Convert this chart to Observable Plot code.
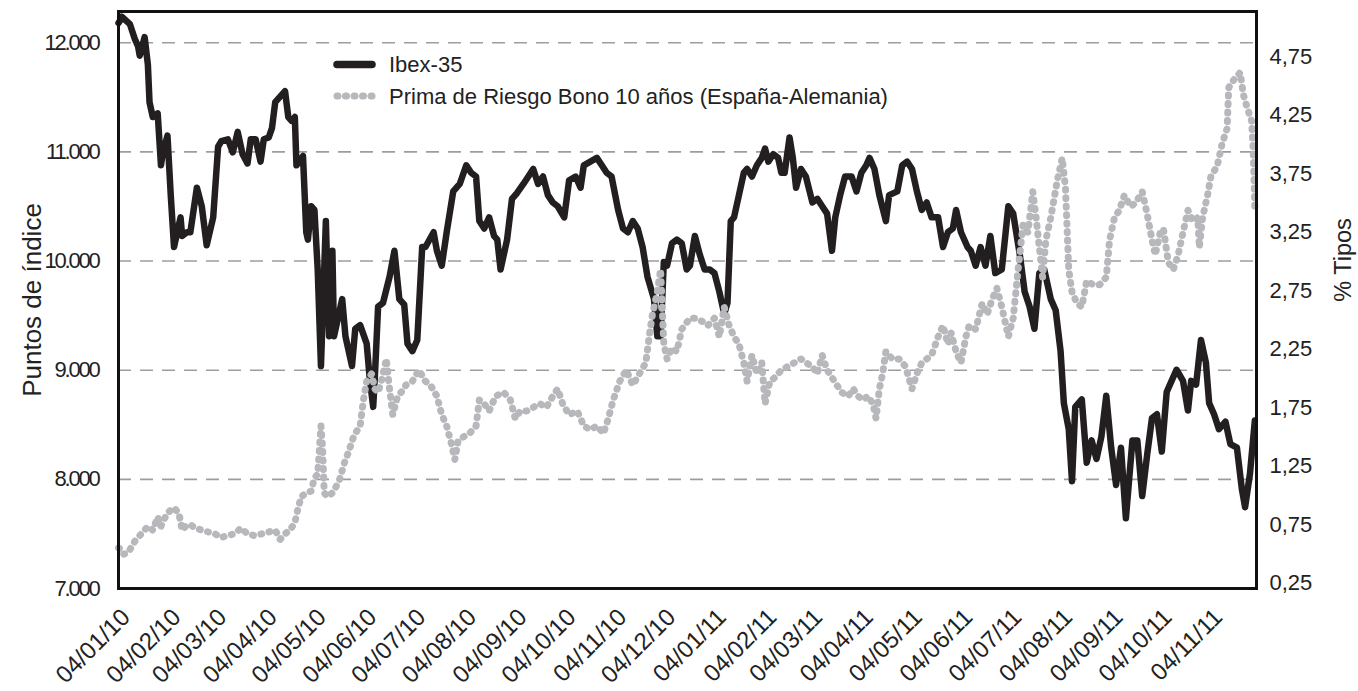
<!DOCTYPE html>
<html><head><meta charset="utf-8">
<script src="https://cdn.jsdelivr.net/npm/d3@7"></script>
<script src="https://cdn.jsdelivr.net/npm/@observablehq/plot@0.6"></script>
<style>
body{margin:0;background:#fff;}
#chart{position:relative;width:1358px;height:691px;}
#chart svg{font-family:"Liberation Sans",Arial,Helvetica,sans-serif;}
</style></head><body><div id="chart"></div>
<script>
const ibexDates = ["2010-01-04","2010-01-05","2010-01-06","2010-01-11","2010-01-14","2010-01-16","2010-01-17","2010-01-20","2010-01-22","2010-01-23","2010-01-25","2010-01-28","2010-01-30","2010-01-31","2010-02-03","2010-02-05","2010-02-07","2010-02-11","2010-02-12","2010-02-15","2010-02-17","2010-02-21","2010-02-24","2010-02-27","2010-03-03","2010-03-06","2010-03-08","2010-03-12","2010-03-15","2010-03-18","2010-03-21","2010-03-24","2010-03-26","2010-03-29","2010-04-01","2010-04-03","2010-04-06","2010-04-08","2010-04-10","2010-04-13","2010-04-16","2010-04-18","2010-04-20","2010-04-22","2010-04-23","2010-04-27","2010-04-29","2010-04-30","2010-05-02","2010-05-04","2010-05-06","2010-05-08","2010-05-11","2010-05-13","2010-05-15","2010-05-16","2010-05-21","2010-05-23","2010-05-27","2010-05-29","2010-06-01","2010-06-05","2010-06-07","2010-06-09","2010-06-10","2010-06-12","2010-06-15","2010-06-19","2010-06-22","2010-06-25","2010-06-28","2010-06-30","2010-07-03","2010-07-06","2010-07-09","2010-07-11","2010-07-16","2010-07-18","2010-07-21","2010-07-24","2010-07-28","2010-08-01","2010-08-05","2010-08-08","2010-08-11","2010-08-13","2010-08-16","2010-08-19","2010-08-22","2010-08-24","2010-08-26","2010-08-30","2010-09-02","2010-09-05","2010-09-09","2010-09-12","2010-09-15","2010-09-18","2010-09-21","2010-09-24","2010-09-27","2010-09-30","2010-10-04","2010-10-07","2010-10-11","2010-10-14","2010-10-16","2010-10-20","2010-10-24","2010-10-27","2010-10-30","2010-11-02","2010-11-06","2010-11-09","2010-11-12","2010-11-15","2010-11-18","2010-11-21","2010-11-24","2010-11-28","2010-11-30","2010-12-02","2010-12-04","2010-12-06","2010-12-09","2010-12-12","2010-12-15","2010-12-18","2010-12-20","2010-12-23","2010-12-26","2010-12-29","2011-01-01","2011-01-04","2011-01-07","2011-01-10","2011-01-12","2011-01-14","2011-01-16","2011-01-19","2011-01-22","2011-01-24","2011-01-27","2011-01-30","2011-02-02","2011-02-04","2011-02-06","2011-02-09","2011-02-12","2011-02-14","2011-02-16","2011-02-19","2011-02-21","2011-02-23","2011-02-26","2011-03-01","2011-03-05","2011-03-08","2011-03-11","2011-03-14","2011-03-17","2011-03-19","2011-03-22","2011-03-25","2011-03-29","2011-04-01","2011-04-04","2011-04-07","2011-04-09","2011-04-12","2011-04-15","2011-04-19","2011-04-21","2011-04-26","2011-04-29","2011-05-02","2011-05-05","2011-05-08","2011-05-11","2011-05-14","2011-05-17","2011-05-21","2011-05-24","2011-05-27","2011-05-30","2011-06-01","2011-06-04","2011-06-08","2011-06-10","2011-06-13","2011-06-16","2011-06-19","2011-06-22","2011-06-25","2011-06-29","2011-07-03","2011-07-06","2011-07-10","2011-07-13","2011-07-16","2011-07-19","2011-07-22","2011-07-25","2011-07-29","2011-08-01","2011-08-04","2011-08-06","2011-08-09","2011-08-11","2011-08-13","2011-08-17","2011-08-20","2011-08-23","2011-08-26","2011-08-29","2011-09-01","2011-09-04","2011-09-07","2011-09-10","2011-09-13","2011-09-17","2011-09-20","2011-09-23","2011-09-26","2011-09-29","2011-10-02","2011-10-05","2011-10-08","2011-10-11","2011-10-14","2011-10-18","2011-10-21","2011-10-23","2011-10-26","2011-10-29","2011-11-01","2011-11-03","2011-11-06","2011-11-09","2011-11-13","2011-11-16","2011-11-20","2011-11-23","2011-11-25","2011-11-28","2011-12-01"];
const ibexValues = [12180,12204,12238,12170,12034,11966,11881,12051,11796,11455,11319,11353,10877,10979,11149,10604,10128,10400,10230,10264,10264,10672,10502,10145,10400,11047,11098,11115,10996,11183,10979,10894,11115,11115,10911,11115,11132,11217,11455,11506,11557,11319,11285,11319,10877,10962,10264,10196,10502,10468,9923,9038,10366,9311,10094,9311,9651,9311,9038,9379,9413,9243,8902,8664,8936,9583,9617,9855,10094,9651,9600,9243,9175,9277,10128,10128,10264,10094,9958,10264,10638,10706,10877,10809,10774,10366,10298,10400,10230,10196,9923,10196,10570,10621,10706,10774,10843,10706,10774,10604,10536,10502,10400,10740,10774,10672,10877,10911,10945,10877,10809,10774,10468,10298,10264,10366,10298,10128,9855,9651,9311,9311,9992,9958,10162,10196,10162,9923,9958,10230,10060,9923,9923,9890,9719,9515,9617,10366,10400,10604,10809,10843,10774,10877,10945,11030,10911,10979,10945,10809,10809,11132,10945,10672,10843,10774,10536,10570,10502,10434,10094,10400,10604,10774,10774,10638,10809,10877,10945,10843,10604,10366,10604,10638,10877,10911,10843,10638,10468,10536,10400,10400,10128,10264,10298,10468,10264,10128,10094,9958,10128,9958,10230,9890,9923,10502,10434,10060,9719,9583,9379,9890,9923,9651,9549,9175,8698,8460,7983,8664,8732,8153,8357,8187,8391,8766,8290,7949,8290,7643,8357,8357,7847,8221,8562,8596,8255,8800,8902,9004,8902,8630,8902,8868,9277,9072,8698,8596,8460,8528,8323,8290,7915,7745,8051,8540];

const primaDates = ["2010-01-04","2010-01-05","2010-01-07","2010-01-10","2010-01-14","2010-01-18","2010-01-22","2010-01-25","2010-01-28","2010-01-30","2010-02-01","2010-02-04","2010-02-07","2010-02-10","2010-02-12","2010-02-14","2010-02-17","2010-02-20","2010-02-24","2010-02-28","2010-03-04","2010-03-08","2010-03-12","2010-03-16","2010-03-20","2010-03-24","2010-03-28","2010-04-02","2010-04-06","2010-04-10","2010-04-13","2010-04-16","2010-04-19","2010-04-22","2010-04-24","2010-04-26","2010-04-29","2010-05-02","2010-05-04","2010-05-06","2010-05-08","2010-05-09","2010-05-10","2010-05-12","2010-05-15","2010-05-19","2010-05-21","2010-05-23","2010-05-25","2010-05-27","2010-05-29","2010-06-01","2010-06-03","2010-06-05","2010-06-08","2010-06-10","2010-06-12","2010-06-14","2010-06-17","2010-06-19","2010-06-21","2010-06-24","2010-06-28","2010-06-29","2010-07-03","2010-07-07","2010-07-11","2010-07-14","2010-07-18","2010-07-21","2010-07-24","2010-07-27","2010-07-29","2010-07-31","2010-08-03","2010-08-07","2010-08-11","2010-08-13","2010-08-16","2010-08-19","2010-08-23","2010-08-28","2010-09-01","2010-09-04","2010-09-07","2010-09-11","2010-09-15","2010-09-19","2010-09-23","2010-09-27","2010-09-30","2010-10-03","2010-10-07","2010-10-12","2010-10-16","2010-10-20","2010-10-24","2010-10-28","2010-10-31","2010-11-03","2010-11-07","2010-11-11","2010-11-15","2010-11-19","2010-11-23","2010-11-25","2010-11-27","2010-11-30","2010-12-02","2010-12-04","2010-12-06","2010-12-09","2010-12-12","2010-12-15","2010-12-20","2010-12-23","2010-12-28","2010-12-31","2011-01-04","2011-01-07","2011-01-10","2011-01-13","2011-01-16","2011-01-19","2011-01-22","2011-01-24","2011-01-27","2011-01-30","2011-02-02","2011-02-04","2011-02-07","2011-02-10","2011-02-14","2011-02-18","2011-02-22","2011-02-26","2011-03-01","2011-03-05","2011-03-08","2011-03-11","2011-03-14","2011-03-17","2011-03-20","2011-03-23","2011-03-27","2011-03-30","2011-04-02","2011-04-05","2011-04-08","2011-04-11","2011-04-13","2011-04-15","2011-04-17","2011-04-19","2011-04-23","2011-04-27","2011-05-01","2011-05-05","2011-05-08","2011-05-11","2011-05-14","2011-05-17","2011-05-21","2011-05-24","2011-05-27","2011-05-29","2011-06-01","2011-06-04","2011-06-07","2011-06-09","2011-06-13","2011-06-17","2011-06-20","2011-06-23","2011-06-26","2011-06-29","2011-07-03","2011-07-06","2011-07-09","2011-07-12","2011-07-15","2011-07-18","2011-07-20","2011-07-22","2011-07-24","2011-07-26","2011-07-29","2011-08-02","2011-08-05","2011-08-07","2011-08-09","2011-08-11","2011-08-14","2011-08-17","2011-08-20","2011-08-24","2011-08-28","2011-09-01","2011-09-03","2011-09-06","2011-09-09","2011-09-12","2011-09-16","2011-09-19","2011-09-23","2011-09-26","2011-09-29","2011-10-01","2011-10-04","2011-10-06","2011-10-09","2011-10-12","2011-10-15","2011-10-18","2011-10-21","2011-10-24","2011-10-27","2011-10-28","2011-10-30","2011-11-02","2011-11-04","2011-11-08","2011-11-11","2011-11-14","2011-11-15","2011-11-18","2011-11-22","2011-11-24","2011-11-26","2011-11-29","2011-11-30","2011-12-01"];
const primaValues = [0.55,0.543,0.496,0.512,0.607,0.671,0.734,0.702,0.814,0.734,0.798,0.861,0.893,0.845,0.702,0.734,0.75,0.718,0.702,0.686,0.671,0.639,0.655,0.671,0.718,0.671,0.655,0.671,0.686,0.702,0.623,0.671,0.702,0.766,0.893,0.988,1.02,1.036,1.148,1.18,1.592,1.402,1.02,0.988,1.02,1.116,1.211,1.306,1.37,1.465,1.529,1.592,1.815,1.974,2.038,1.91,1.879,1.974,2.165,1.91,1.688,1.847,1.91,1.942,1.974,2.07,1.974,1.942,1.847,1.688,1.592,1.434,1.306,1.465,1.497,1.529,1.592,1.815,1.783,1.72,1.847,1.879,1.815,1.656,1.72,1.72,1.751,1.783,1.751,1.847,1.91,1.783,1.688,1.72,1.592,1.561,1.592,1.529,1.656,1.815,1.974,2.07,1.942,2.038,2.133,2.355,2.546,2.737,2.928,2.292,2.165,2.26,2.228,2.419,2.514,2.514,2.483,2.451,2.514,2.355,2.61,2.451,2.355,2.292,2.133,1.974,2.197,2.038,2.133,1.783,1.974,2.006,2.07,2.101,2.133,2.165,2.133,2.101,2.038,2.197,2.07,2.006,1.942,1.879,1.847,1.91,1.847,1.815,1.847,1.783,1.656,1.91,2.038,2.228,2.165,2.165,2.101,1.91,2.038,2.133,2.165,2.197,2.355,2.451,2.292,2.387,2.228,2.133,2.355,2.45,2.419,2.641,2.546,2.673,2.769,2.61,2.355,2.514,2.928,3.309,3.246,3.595,3.373,3.118,2.864,3.182,3.373,3.691,3.881,3.627,2.928,2.737,2.641,2.61,2.832,2.8,2.8,2.864,3.182,3.373,3.436,3.563,3.468,3.5,3.595,3.405,3.182,3.055,3.246,3.277,2.991,2.928,3.055,3.246,3.436,3.341,3.373,3.118,3.373,3.563,3.722,3.818,4.009,4.136,4.485,4.549,4.613,4.422,4.326,4.199,3.945,3.45];

const leftTicks = [7000, 8000, 9000, 10000, 11000, 12000];
const gridTicks = [8000, 9000, 10000, 11000, 12000];
const rightTicks = [0.25, 0.75, 1.25, 1.75, 2.25, 2.75, 3.25, 3.75, 4.25, 4.75];
const monthTicks = ["2010-01-04","2010-02-04","2010-03-04","2010-04-04","2010-05-04","2010-06-04","2010-07-04","2010-08-04","2010-09-04","2010-10-04","2010-11-04","2010-12-04","2011-01-04","2011-02-04","2011-03-04","2011-04-04","2011-05-04","2011-06-04","2011-07-04","2011-08-04","2011-09-04","2011-10-04","2011-11-04"];
const seriesNames = ["Ibex-35", "Prima de Riesgo Bono 10 años (España-Alemania)"];
const axisTitles = ["Puntos de índice", "% Tipos"];

const leftDomain = [7000, 12286];
const rightDomain = [0.203, 5.135];
const toLeft = p => leftDomain[0] + (p - rightDomain[0]) / (rightDomain[1] - rightDomain[0]) * (leftDomain[1] - leftDomain[0]);

const parse = d3.utcParse("%Y-%m-%d");
const ibex = ibexDates.map((d, i) => ({date: parse(d), value: ibexValues[i]}));
const prima = primaDates.map((d, i) => ({date: parse(d), value: primaValues[i]}));
const months = monthTicks.map(parse);
const fmtLeft = v => String(v).replace(/\B(?=(\d{3})+(?!\d))/g, ".");
const fmtRight = v => v.toFixed(2).replace(".", ",");
const fmtDate = d3.utcFormat("%d/%m/%y");

const INK = "#231f20", GREY = "#b7b8bb", TXT = "#222";
const DOTS = "1,7.5";

const plot = Plot.plot({
  width: 1358, height: 691,
  marginLeft: 118, marginRight: 102, marginTop: 11, marginBottom: 103,
  x: {type: "utc", domain: [parse("2010-01-04"), parse("2011-12-02")], axis: null},
  y: {domain: leftDomain, axis: null},
  style: {fontFamily: '"Liberation Sans", Arial, Helvetica, sans-serif', fontSize: "22px", color: TXT, background: "#fff"},
  marks: [
    Plot.ruleY(gridTicks, {stroke: "#9d9d9d", strokeWidth: 1.6, strokeDasharray: "13,9"}),
    Plot.line(ibex, {x: "date", y: "value", stroke: INK, strokeWidth: 6.5, strokeLinejoin: "round", strokeLinecap: "round"}),
    Plot.line(prima, {x: "date", y: d => toLeft(d.value), stroke: GREY, strokeWidth: 7, strokeDasharray: DOTS, strokeLinecap: "round", strokeLinejoin: "round"}),
    Plot.frame({stroke: "#111", strokeWidth: 3}),
    Plot.text(leftTicks, {y: d => d, text: fmtLeft, frameAnchor: "left", textAnchor: "end", dx: -20, fontSize: 22, fill: TXT}),
    Plot.text(rightTicks, {y: d => toLeft(d), text: fmtRight, frameAnchor: "right", textAnchor: "start", dx: 13, fontSize: 22, fill: TXT}),
    Plot.text(months, {x: d => d, text: fmtDate, frameAnchor: "bottom", rotate: -45, textAnchor: "end", dx: 13, dy: 30, fontSize: 24, fill: TXT}),
    Plot.text([axisTitles[0]], {text: d => d, frameAnchor: "left", textAnchor: "middle", rotate: -90, dx: -86, fontSize: 26, fill: TXT}),
    Plot.text([axisTitles[1]], {text: d => d, frameAnchor: "right", textAnchor: "middle", rotate: -90, dx: 87, dy: -40, fontSize: 23.5, fill: TXT})
  ]
});

const svg = d3.select(plot);
svg.selectAll("text").filter(function() { return /^\d{1,2}\.\d{3}$/.test(this.textContent); })
  .style("letter-spacing", "-2.2px");
const lg = svg.append("g").attr("font-size", 22).attr("fill", TXT).attr("text-anchor", "start");
lg.append("line").attr("x1", 337).attr("x2", 372).attr("y1", 64.5).attr("y2", 64.5)
  .attr("stroke", INK).attr("stroke-width", 7.5).attr("stroke-linecap", "round");
lg.append("text").attr("x", 389).attr("y", 64.5).attr("dy", "0.35em").text(seriesNames[0]);
lg.append("line").attr("x1", 337).attr("x2", 374).attr("y1", 96).attr("y2", 96)
  .attr("stroke", GREY).attr("stroke-width", 7).attr("stroke-dasharray", DOTS).attr("stroke-linecap", "round");
lg.append("text").attr("x", 389).attr("y", 96).attr("dy", "0.35em").text(seriesNames[1]);

document.getElementById("chart").appendChild(plot);
</script>
</body></html>
